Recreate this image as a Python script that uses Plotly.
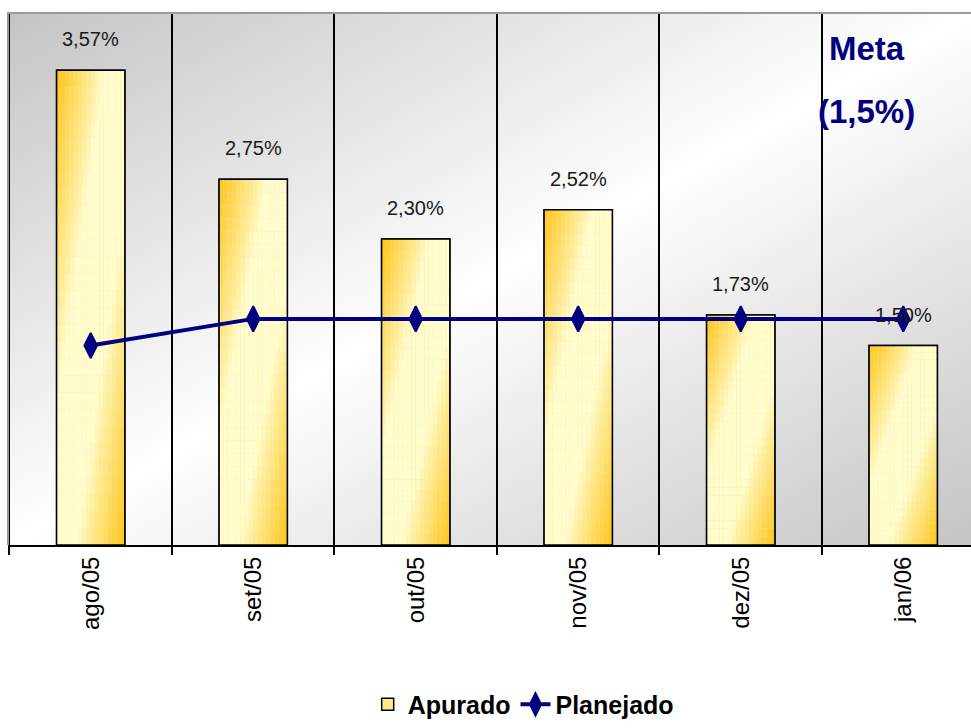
import base64
import struct
import zlib

import plotly.graph_objects as go

# ---------------- data ----------------
categories = ["ago/05", "set/05", "out/05", "nov/05", "dez/05", "jan/06"]
apurado = [3.57, 2.75, 2.30, 2.52, 1.73, 1.50]
planejado = [1.50, 1.70, 1.70, 1.70, 1.70, 1.70]
apurado_labels = ["3,57%", "2,75%", "2,30%", "2,52%", "1,73%", "1,50%"]
meta_lines = ["Meta", "(1,5%)"]

# ---------------- style ----------------
W, H = 971, 728
ML, MR, MT, MB = 8, 0, 13, 183
BAR_W = 0.42
NAVY = "#000080"
GOLD = (255, 196, 24)
CREAM = (255, 252, 206)


def png_gray(w, h, fn):
    rows = []
    for j in range(h):
        row = bytearray([0])
        for i in range(w):
            row.append(fn(i / (w - 1), j / (h - 1)))
        rows.append(bytes(row))
    raw = b"".join(rows)

    def chunk(t, d):
        c = struct.pack(">I", len(d)) + t + d
        return c + struct.pack(">I", zlib.crc32(t + d) & 0xFFFFFFFF)

    png = b"\x89PNG\r\n\x1a\n"
    png += chunk(b"IHDR", struct.pack(">IIBBBBB", w, h, 8, 0, 0, 0, 0))
    png += chunk(b"IDAT", zlib.compress(raw, 9))
    png += chunk(b"IEND", b"")
    return "data:image/png;base64," + base64.b64encode(png).decode()


def bg_shade(u, v):
    d = abs(u + v - 1.0)
    return int(round(255 - 58 * d))


bg_uri = png_gray(200, 120, bg_shade)


def mix(t):
    t = max(0.0, min(1.0, t))
    return "rgb(%d,%d,%d)" % tuple(round(c2 + (c1 - c2) * t) for c1, c2 in zip(GOLD, CREAM))


fig = go.Figure()

# legend / base bar
fig.add_trace(go.Bar(
    x=categories, y=apurado, name="Apurado", width=BAR_W,
    marker=dict(color="#FFE98A", line=dict(color="black", width=1.5)),
    hoverinfo="skip", showlegend=True,
))

# gradient cells of each bar (rows x columns), heights derived from the data
N_ROWS, N_COLS = 28, 16
for k in range(N_ROWS):
    v = (k + 0.5) / N_ROWS
    for jcol in range(N_COLS):
        u = (jcol + 0.5) / N_COLS
        d = abs(u + v - 1.0)
        t = ((d - 0.3) / 0.7) ** 0.9 if d > 0.3 else 0.0
        fig.add_trace(go.Bar(
            x=categories,
            y=[a / N_ROWS for a in apurado],
            base=[a * (N_ROWS - 1 - k) / N_ROWS for a in apurado],
            width=BAR_W / N_COLS,
            offset=-BAR_W / 2 + jcol * BAR_W / N_COLS,
            marker=dict(color=mix(t), line=dict(width=0)),
            hoverinfo="skip", showlegend=False,
        ))

# outline
fig.add_trace(go.Bar(
    x=categories, y=apurado, width=BAR_W,
    marker=dict(color="rgba(0,0,0,0)", line=dict(color="black", width=1.5)),
    hoverinfo="skip", showlegend=False,
))

fig.add_trace(go.Scatter(
    x=categories, y=planejado, name="Planejado", mode="lines+markers",
    line=dict(color=NAVY, width=4),
    marker=dict(symbol="diamond-tall", size=18, color=NAVY, line=dict(color=NAVY, width=2)),
))

for c, val, lab in zip(categories, apurado, apurado_labels):
    fig.add_annotation(
        x=c, y=val, text=lab, showarrow=False, yanchor="bottom", yshift=18,
        font=dict(family="Arial, Liberation Sans", size=20, color="#1a1a1a"),
    )

fig.add_annotation(xref="paper", yref="paper", x=0.892, y=0.934, text="<b>%s</b>" % meta_lines[0],
                   showarrow=False, xanchor="center", yanchor="middle",
                   font=dict(family="Arial, Liberation Sans", size=33, color=NAVY))
fig.add_annotation(xref="paper", yref="paper", x=0.892, y=0.814, text="<b>%s</b>" % meta_lines[1],
                   showarrow=False, xanchor="center", yanchor="middle",
                   font=dict(family="Arial, Liberation Sans", size=33, color=NAVY))

# top and left border of plot area
fig.add_shape(type="path", xref="paper", yref="paper", path="M 0,0 L 0,1 L 1,1",
              line=dict(color="#9a9a9a", width=2), layer="above")

fig.update_layout(
    width=W, height=H,
    margin=dict(l=ML, r=MR, t=MT, b=MB, pad=0),
    paper_bgcolor="white", plot_bgcolor="rgba(0,0,0,0)",
    barmode="overlay",
    font=dict(family="Arial, Liberation Sans", color="black"),
    images=[dict(source=bg_uri, xref="paper", yref="paper", x=0, y=1, sizex=1, sizey=1,
                 xanchor="left", yanchor="top", sizing="stretch", layer="below")],
    legend=dict(orientation="h", x=0.535, y=-0.30, xanchor="center", yanchor="middle",
                font=dict(family="Arial, Liberation Sans", size=25, color="black", weight="bold"),
                bgcolor="rgba(0,0,0,0)", itemclick=False),
    xaxis=dict(
        type="category", range=[-0.509, 5.417], tickson="boundaries",
        showgrid=True, gridcolor="black", gridwidth=1.5,
        showline=True, linecolor="black", linewidth=2,
        ticks="outside", ticklen=8, tickwidth=2, tickcolor="black",
        tickangle=-90, tickfont=dict(size=24, color="black"),
        fixedrange=True,
    ),
    yaxis=dict(range=[0, 4.0], showgrid=False, showticklabels=False, zeroline=False,
               showline=False, ticks="", fixedrange=True),
)

fig.write_html("out.html")
